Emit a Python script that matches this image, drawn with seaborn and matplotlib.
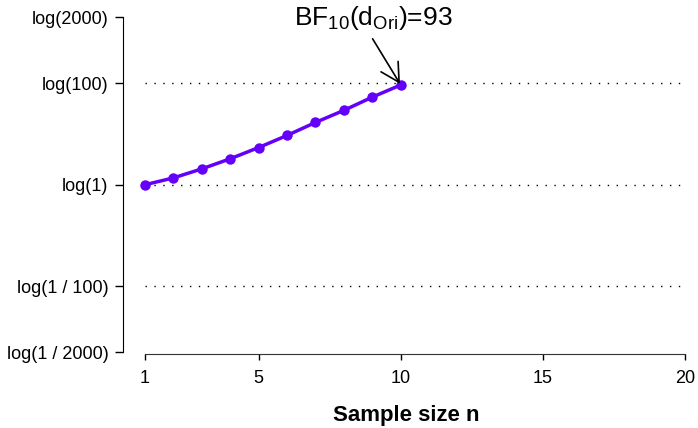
import numpy as np
import pandas as pd
import seaborn as sns
import matplotlib.pyplot as plt

# data (log Bayes factor per sample size)
sample_n = [1, 2, 3, 4, 5, 6, 7, 8, 9, 10]
log_bf = [0.0, 0.31, 0.72, 1.18, 1.69, 2.24, 2.83, 3.38, 3.98, np.log(93)]
ref_levels = [np.log(100), 0.0, np.log(1 / 100)]
ytick_vals = [np.log(1 / 2000), np.log(1 / 100), 0.0, np.log(100), np.log(2000)]
ytick_labels = ["log(1 / 2000)", "log(1 / 100)", "log(1)", "log(100)", "log(2000)"]
xtick_vals = [1, 5, 10, 15, 20]

LINE_COL = "#6400FA"

sns.set_style("ticks")
plt.rcParams["font.family"] = ["Liberation Sans", "DejaVu Sans"]
plt.rcParams["mathtext.fontset"] = "custom"
plt.rcParams["mathtext.rm"] = "Liberation Sans"
plt.rcParams["mathtext.it"] = "Liberation Sans:italic"
plt.rcParams["text.color"] = "black"
plt.rcParams["axes.labelcolor"] = "black"
plt.rcParams["xtick.color"] = "black"
plt.rcParams["ytick.color"] = "black"

df = pd.DataFrame({"n": sample_n, "logBF": log_bf})

fig = plt.figure(figsize=(6.98, 4.28), dpi=100)
W, H = 698, 428
ax = fig.add_axes([123 / W, (H - 354) / H, (690 - 123) / W, (354 - 17) / H])

# dotted reference lines
for lv in ref_levels:
    ax.plot([1, 20], [lv, lv], color="black", lw=1.0,
            linestyle=(0, (1, 5.4)), zorder=1)

sns.lineplot(ax=ax, data=df, x="n", y="logBF", color=LINE_COL, lw=2.5,
             marker="o", markersize=7.5, markeredgewidth=0, zorder=3)

ax.set_xlim(0.226, 20.18)
ax.set_ylim(-7.69, 7.62)

ax.set_xticks(xtick_vals)
ax.set_xticklabels([str(v) for v in xtick_vals], fontsize=13)
ax.set_yticks(ytick_vals)
ax.set_yticklabels(ytick_labels, fontsize=13)
ax.tick_params(axis="x", length=4.5, width=1, pad=7)
ax.tick_params(axis="y", length=5.5, width=1, pad=5)

for s in ["top", "right"]:
    ax.spines[s].set_visible(False)
ax.spines["bottom"].set_bounds(1, 20)
ax.spines["left"].set_bounds(np.log(1 / 2000), np.log(2000))
ax.spines["bottom"].set_color("#333333")
ax.spines["left"].set_color("black")

ax.set_xlabel("Sample size n", fontsize=16, fontweight="bold", labelpad=13)
ax.set_ylabel("")

ax.text(9.02, 7.58, r"BF$_{\mathrm{10}}$(d$_{\mathrm{Ori}}$)=93",
        ha="center", va="center", fontsize=19, clip_on=False)
ax.annotate("", xy=(10, np.log(93)), xytext=(9.01, 6.63),
            arrowprops=dict(arrowstyle="->, head_length=0.55, head_width=0.3",
                            color="black", lw=1.2,
                            mutation_scale=24, shrinkA=0, shrinkB=1))

fig.savefig("out.png", dpi=100)
